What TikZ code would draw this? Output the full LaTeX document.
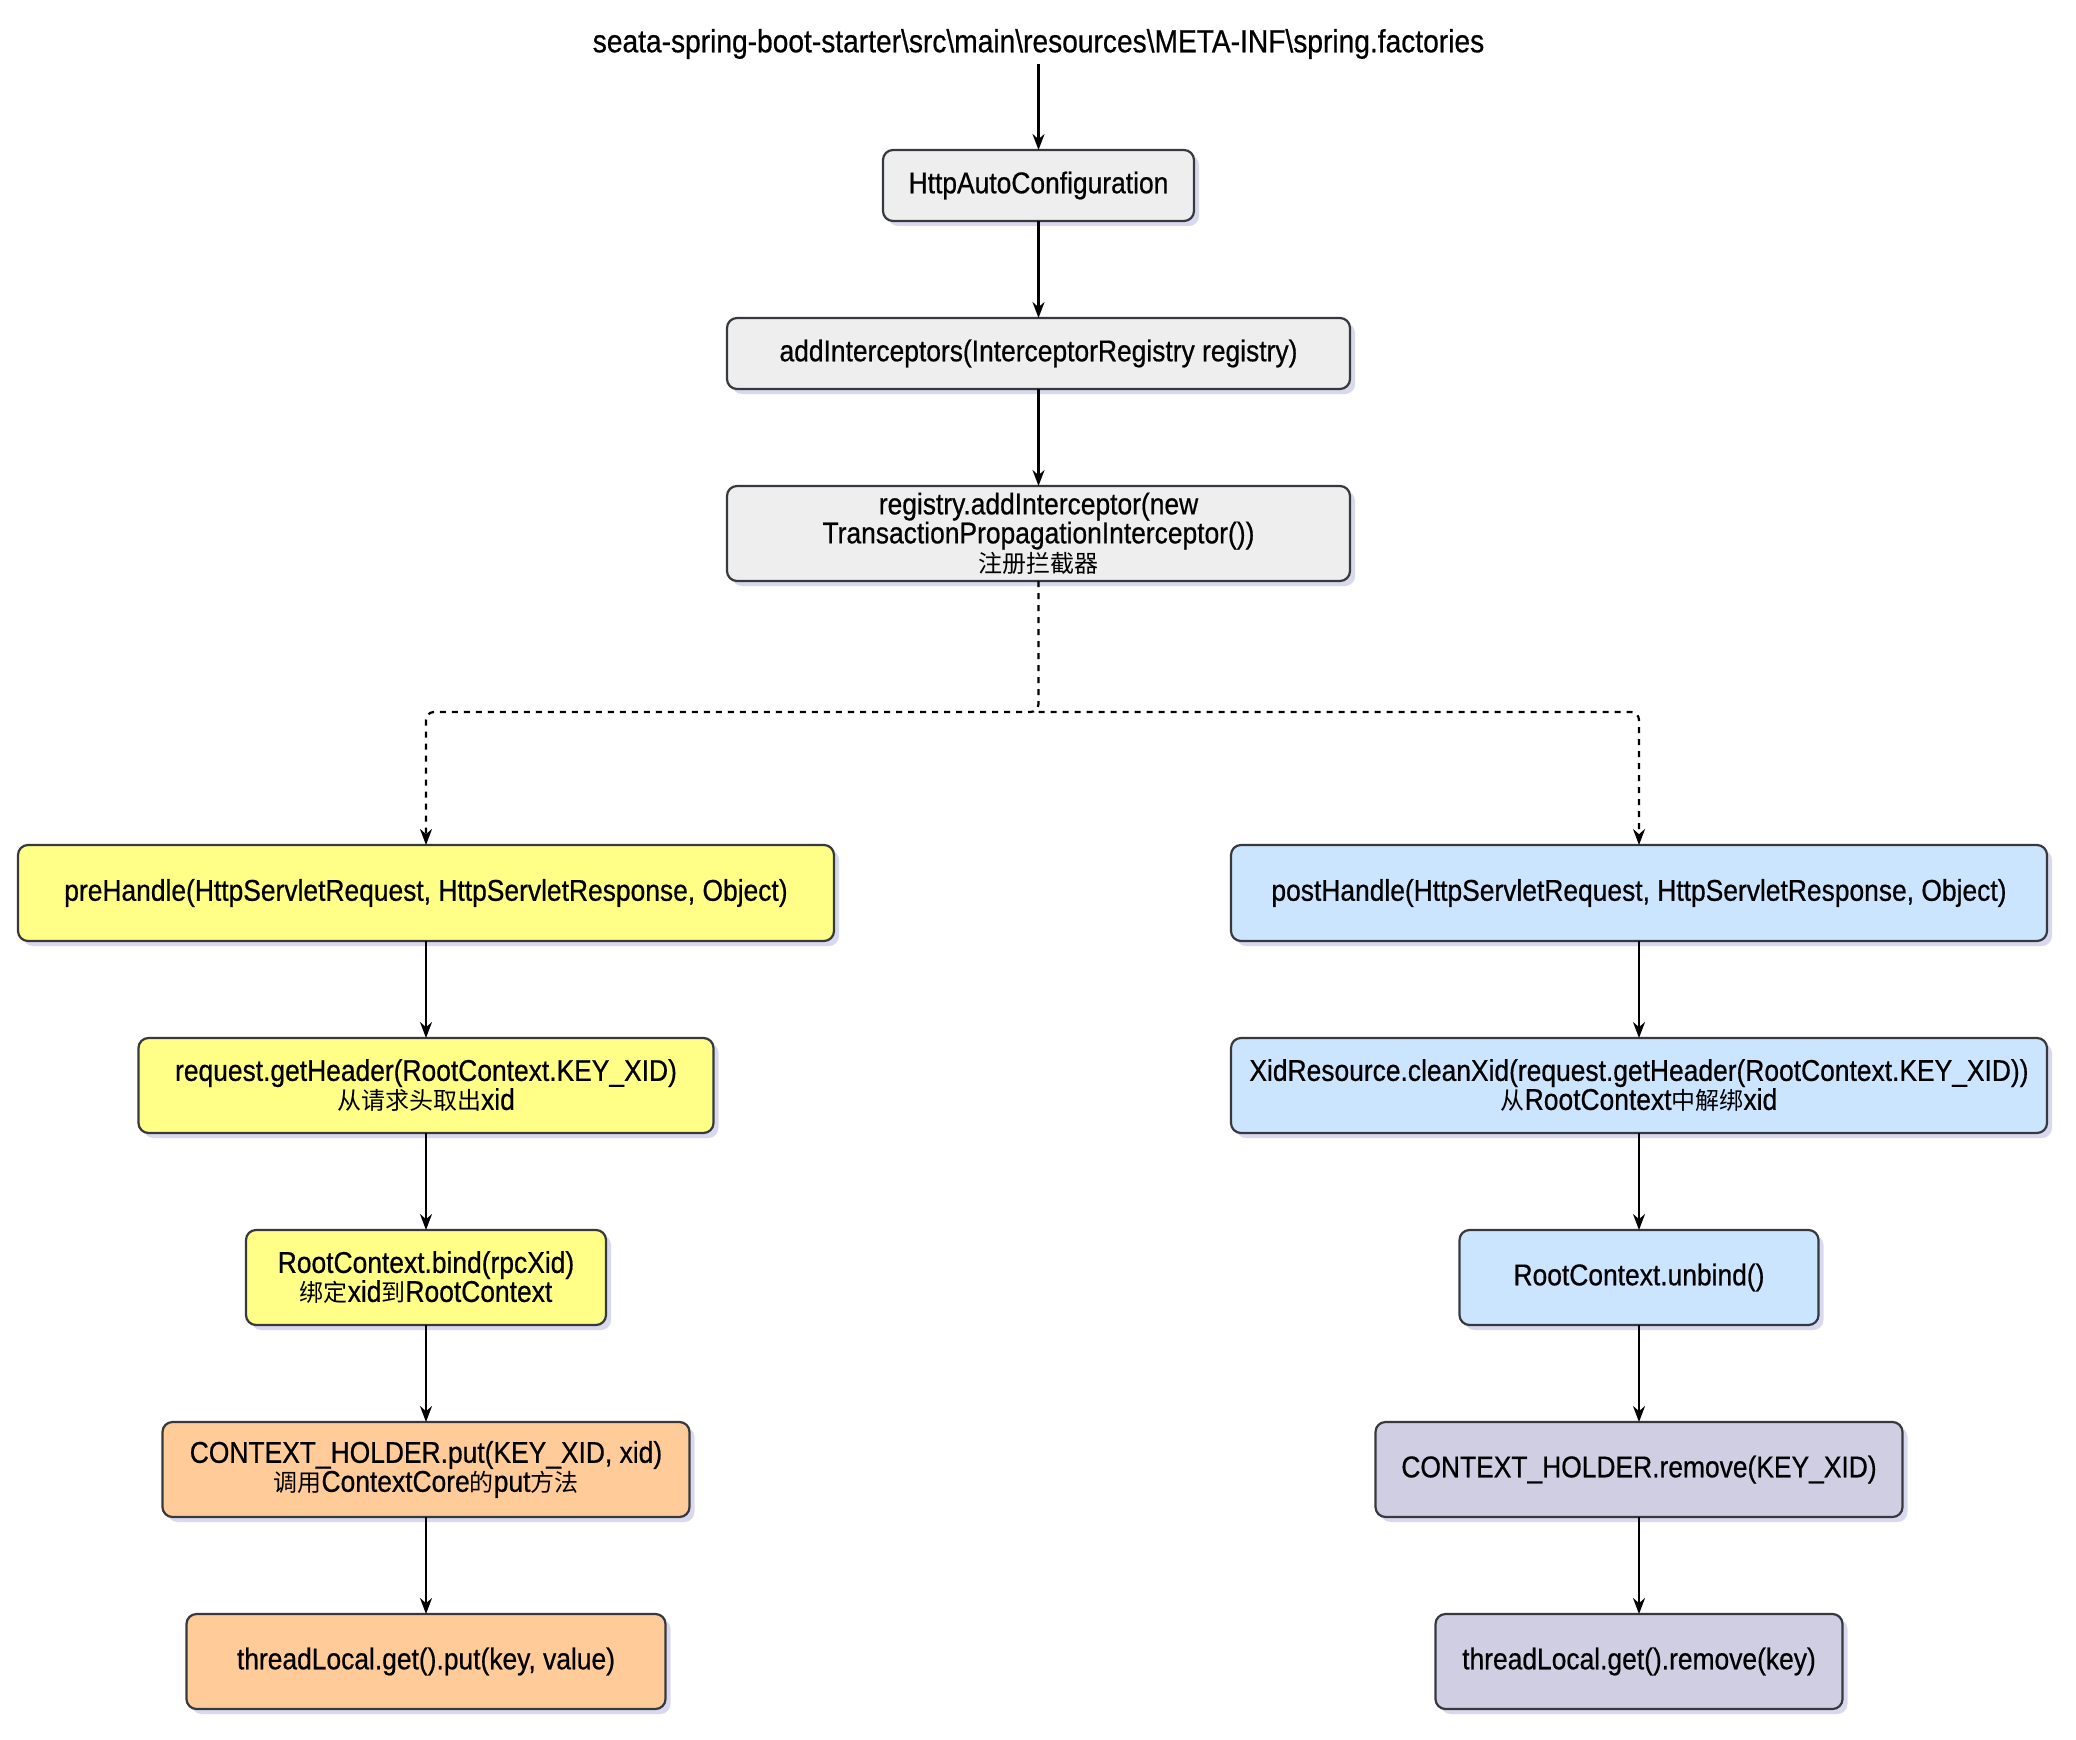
\documentclass[tikz,border=0pt]{standalone}
\usepackage{fontspec}
\setmainfont{Liberation Sans}[FakeStretch=0.88,FakeBold=0.6]
\newfontfamily\cjk{Noto Sans CJK SC}[Scale=0.8]
\usetikzlibrary{arrows.meta,shadows}
\definecolor{cgray}{HTML}{EEEEEE}
\definecolor{cyellow}{HTML}{FFFF88}
\definecolor{cblue}{HTML}{CCE5FF}
\definecolor{corange}{HTML}{FFCC99}
\definecolor{clav}{HTML}{D0CEE2}
\definecolor{cline}{HTML}{36393D}
\begin{document}
\begin{tikzpicture}[x=0.5pt,y=-0.5pt,
  font=\fontsize{15}{14.5}\selectfont,
  box/.style={draw=cline, line width=1.1pt, rounded corners=5pt, align=center,
    inner sep=0pt, outer sep=0pt,
    drop shadow={shadow xshift=2.5pt, shadow yshift=-2.5pt, fill=black!40!blue!30, opacity=0.5}},
  graybox/.style={box, fill=cgray},
  yelbox/.style={box, fill=cyellow},
  bluebox/.style={box, fill=cblue},
  orbox/.style={box, fill=corange},
  lavbox/.style={box, fill=clav},
  conn/.style={line width=1.1pt, -{Stealth[length=8pt,width=6pt]}},
  dconn/.style={conn, dash pattern=on 3pt off 3pt, rounded corners=4pt}]
\useasboundingbox (0,0) rectangle (2076,1739);
\node[inner sep=0pt, font=\fontsize{16}{16}\selectfont] (title) at (1038.5,44) {seata-spring-boot-starter\textbackslash src\textbackslash main\textbackslash resources\textbackslash META-INF\textbackslash spring.factories};
\node[graybox, minimum width=155.5pt, minimum height=35.5pt] (http) at (1038.5,185.5) {HttpAutoConfiguration};
\node[graybox, minimum width=311.5pt, minimum height=35.5pt] (add) at (1038.5,353.5) {addInterceptors(InterceptorRegistry registry)};
\node[graybox, minimum width=311.5pt, minimum height=47.5pt] (reg) at (1038.5,533.5) {registry.addInterceptor(new\\TransactionPropagationInterceptor())\\{\cjk 注册拦截器}};
\coordinate (split) at (1038.5,712);

\node[yelbox, minimum width=408pt, minimum height=48pt] (pre) at (426,893) {preHandle(HttpServletRequest, HttpServletResponse, Object)};
\node[yelbox, minimum width=287.5pt, minimum height=47.5pt] (geth) at (426,1085.5) {request.getHeader(RootContext.KEY\_XID)\\{\cjk 从请求头取出}xid};
\node[yelbox, minimum width=180pt, minimum height=47.5pt] (bind) at (426,1277.5) {RootContext.bind(rpcXid)\\{\cjk 绑定}xid{\cjk 到}RootContext};
\node[orbox, minimum width=263.5pt, minimum height=47.5pt] (put) at (426,1469.5) {CONTEXT\_HOLDER.put(KEY\_XID, xid)\\{\cjk 调用}ContextCore{\cjk 的}put{\cjk 方法}};
\node[orbox, minimum width=239.5pt, minimum height=47.5pt] (tlput) at (426,1661.5) {threadLocal.get().put(key, value)};

\node[bluebox, minimum width=408pt, minimum height=48pt] (post) at (1639,893) {postHandle(HttpServletRequest, HttpServletResponse, Object)};
\node[bluebox, minimum width=408pt, minimum height=47.5pt] (xid) at (1639,1085.5) {XidResource.cleanXid(request.getHeader(RootContext.KEY\_XID))\\{\cjk 从}RootContext{\cjk 中解绑}xid};
\node[bluebox, minimum width=179.5pt, minimum height=47.5pt] (unbind) at (1639,1277.5) {RootContext.unbind()};
\node[lavbox, minimum width=263.5pt, minimum height=47.5pt] (remove) at (1639,1469.5) {CONTEXT\_HOLDER.remove(KEY\_XID)};
\node[lavbox, minimum width=203.5pt, minimum height=47.5pt] (tlrem) at (1639,1661.5) {threadLocal.get().remove(key)};

\draw[conn] (title.south |- 0,64) -- (http.north);
\draw[conn] (http) -- (add);
\draw[conn] (add) -- (reg);
\draw[dconn] (reg.south) -- (split) -| (pre.north);
\draw[dconn] (split) -| (post.north);
\draw[conn] (pre) -- (geth);
\draw[conn] (geth) -- (bind);
\draw[conn] (bind) -- (put);
\draw[conn] (put) -- (tlput);
\draw[conn] (post) -- (xid);
\draw[conn] (xid) -- (unbind);
\draw[conn] (unbind) -- (remove);
\draw[conn] (remove) -- (tlrem);
\end{tikzpicture}
\end{document}
